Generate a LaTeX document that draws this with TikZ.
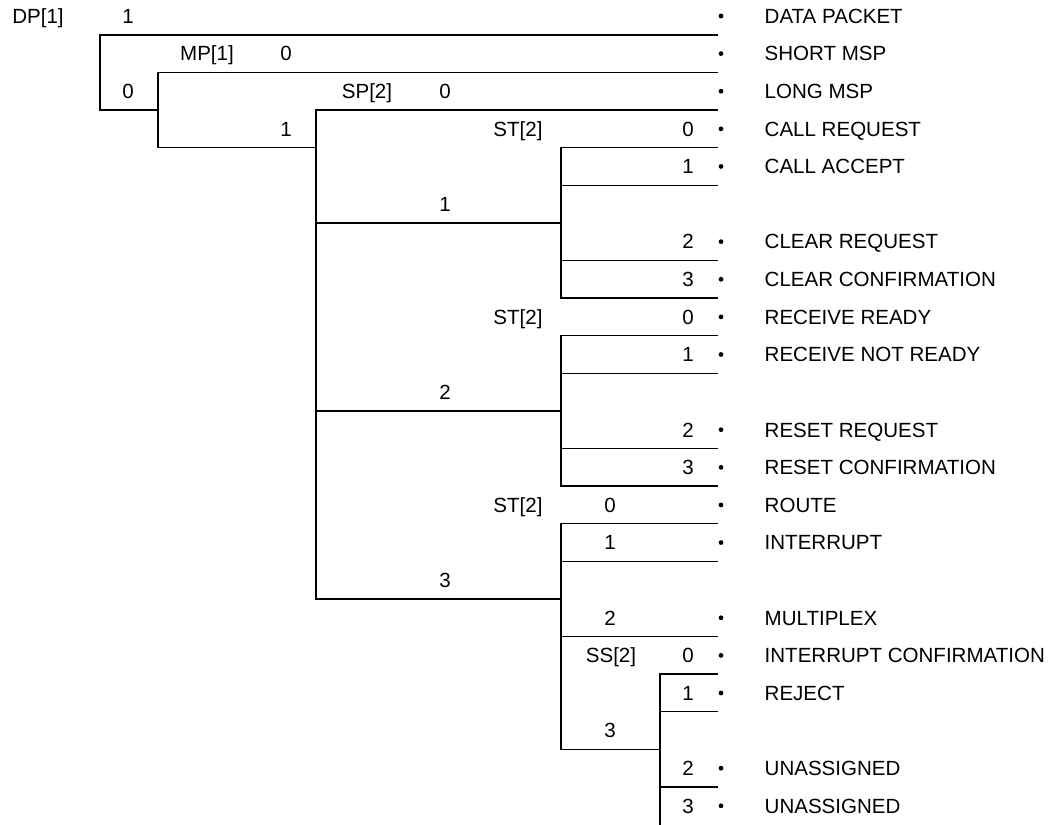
\documentclass[tikz,border=0pt]{standalone}
\usepackage{fontspec}
\setmainfont{Liberation Sans}
\begin{document}
\begin{tikzpicture}[x=0.025cm, y=-0.94cm, line width=1pt,
    lbl/.style={inner sep=0pt, text height=10.4pt, text depth=0pt,
        font=\fontsize{14.6pt}{17pt}\selectfont},
    msg/.style={lbl, anchor=west},
    tip/.style={circle, fill, inner sep=0pt, minimum size=3.4pt}
]
    \useasboundingbox (0,-0.4255) rectangle (1060,21.4894);
    % Branch lines
    \draw (718,0.5) -| (100,2.5) -- (158,2.5);
    \draw (718,1.5) -| (158,3.5) -- (316,3.5);
    \draw (718,2.5) -| (316,15.5) -- (561,15.5);
    \draw (316,5.5) -- (561,5.5) (316,10.5) -- (561,10.5);
    \foreach \t in {3,8} {
        \draw (718,\t+0.5) -| (561,\t+4.5) -- (718,\t+4.5);
        \draw (561,\t+1.5) -- (718,\t+1.5) (561,\t+3.5) -- (718,\t+3.5);
    }
    \draw (718,13.5) -| (561,19.5) -- (660,19.5);
    \draw (561,14.5) -- (718,14.5) (561,16.5) -- (718,16.5);
    \draw (718,17.5) -| (660,21.6);
    \draw (660,18.5) -- (718,18.5) (660,20.5) -- (718,20.5);
    % Field names and values
    \node [lbl] (DP) at (38,0) {DP[1]};
    \node [lbl] (DPone) at (128,0) {1};
    \node [lbl] (DPzero) at (128,2) {0};
    \node [lbl] (MP) at (207,1) {MP[1]};
    \node [lbl] (MPzero) at (286,1) {0};
    \node [lbl] (MPone) at (286,3) {1};
    \node [lbl] (SP) at (367,2) {SP[2]};
    \node [lbl] (SPzero) at (445,2) {0};
    \node [lbl] (SPone) at (445,5) {1};
    \node [lbl] (SPtwo) at (445,10) {2};
    \node [lbl] (SPthree) at (445,15) {3};
    \node [lbl] (STa) at (518,3) {ST[2]};
    \node [lbl] (STb) at (518,8) {ST[2]};
    \node [lbl] (STc) at (518,13) {ST[2]};
    \node [lbl] (SS) at (611,17) {SS[2]};
    \foreach \r/\v in {3/0,4/1,6/2,7/3,8/0,9/1,11/2,12/3,17/0,18/1,20/2,21/3}
        \node [lbl] (v\r) at (688,\r) {\v};
    \foreach \r/\v in {13/0,14/1,16/2,19/3}
        \node [lbl] (v\r) at (610,\r) {\v};
    % Packet types
    \foreach \r/\txt in {0/DATA PACKET, 1/SHORT MSP, 2/LONG MSP,
        3/CALL REQUEST, 4/CALL ACCEPT, 6/CLEAR REQUEST,
        7/CLEAR CONFIRMATION, 8/RECEIVE READY, 9/RECEIVE NOT READY,
        11/RESET REQUEST, 12/RESET CONFIRMATION, 13/ROUTE, 14/INTERRUPT,
        16/MULTIPLEX, 17/INTERRUPT CONFIRMATION, 18/REJECT,
        20/UNASSIGNED, 21/UNASSIGNED} {
        \node [tip] (d\r) at (721,\r) {};
        \node [msg] (m\r) at (764,\r) {\txt};
    }
\end{tikzpicture}
\end{document}
